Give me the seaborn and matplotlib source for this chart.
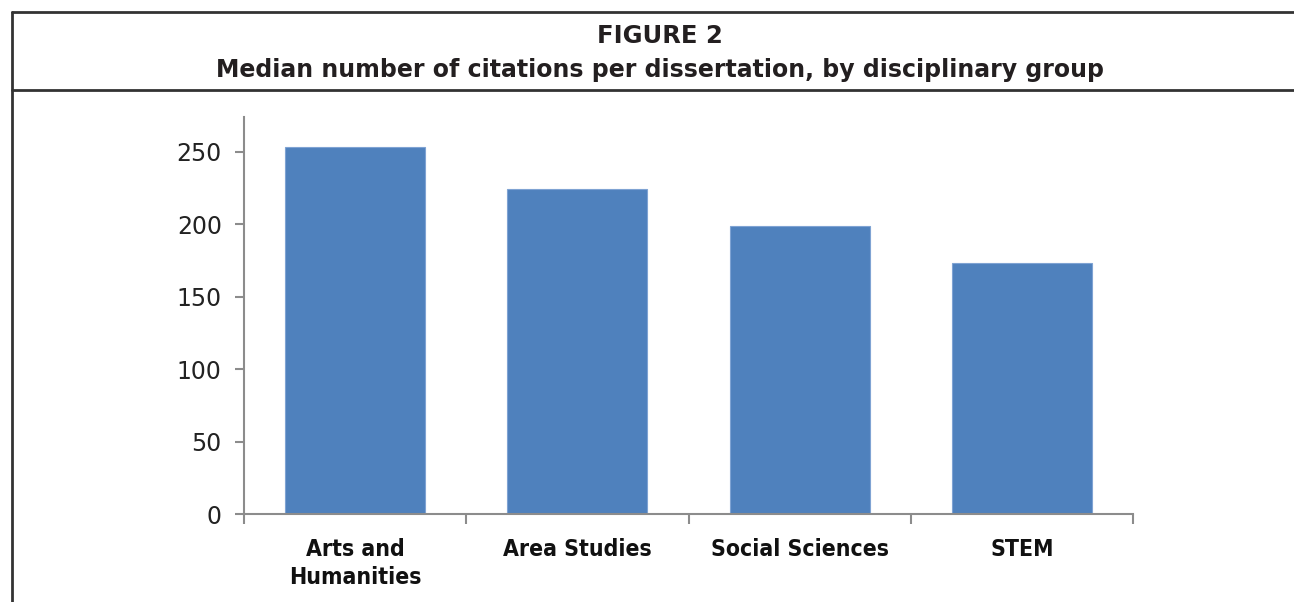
import matplotlib
matplotlib.use("Agg")

import matplotlib.pyplot as plt
import seaborn as sns
import pandas as pd
from matplotlib.lines import Line2D


# values
groups = ["Arts and\nHumanities", "Area Studies", "Social Sciences", "STEM"]
median_citations = [253, 224, 199, 173]
y_ticks = [0, 50, 100, 150, 200, 250]

BAR_COLOR = "#4F81BD"
AXIS_GRAY = "#8C8C8C"
W, H = 1294, 602


def main():

    sns.set_theme(style="white")
    plt.rcParams["font.family"] = ["DejaVu Sans"]

    df = pd.DataFrame({"group": groups, "median": median_citations})

    fig = plt.figure(figsize=(W / 100, H / 100), dpi=100)

    # plot area in pixel terms: x 244..1133, y 117..514
    ax = fig.add_axes([244 / W, 1 - 514 / H, 889 / W, 397 / H])

    sns.barplot(
        data=df,
        x="group",
        y="median",
        order=groups,
        color=BAR_COLOR,
        saturation=1,
        width=0.63,
        edgecolor="#7FA3D3",
        linewidth=0.8,
        ax=ax
    )

    ax.set_xlim(-0.5, len(groups) - 0.5)
    ax.set_ylim(0, 274)
    ax.set_yticks(y_ticks)
    ax.set_xlabel("")
    ax.set_ylabel("")

    for side in ["top", "right"]:
        ax.spines[side].set_visible(False)
    for side in ["left", "bottom"]:
        ax.spines[side].set_color(AXIS_GRAY)
        ax.spines[side].set_linewidth(1.5)

    # category boundary tick marks like Excel
    ax.set_xticks([i - 0.5 for i in range(len(groups) + 1)], minor=True)
    ax.tick_params(axis="x", which="minor", length=7, width=1.5,
                   color=AXIS_GRAY, direction="out", bottom=True)
    ax.tick_params(axis="x", which="major", length=0, pad=17)
    ax.tick_params(axis="y", length=6.5, width=1.5, color=AXIS_GRAY,
                   direction="out", left=True, pad=9.5)

    for lab in ax.get_yticklabels():
        lab.set_fontsize(17)
        lab.set_color("#222222")
    for lab in ax.get_xticklabels():
        lab.set_family("DejaVu Sans")
        lab.set_stretch("condensed")
        lab.set_fontweight("bold")
        lab.set_fontsize(16.5)
        lab.set_color("#111111")
        lab.set_linespacing(1.3)

    # header box and frame lines
    line_kw = dict(color="#333333", linewidth=2, transform=fig.transFigure)
    fig.add_artist(Line2D([12 / W, 1], [1 - 12 / H, 1 - 12 / H], **line_kw))
    fig.add_artist(Line2D([12 / W, 1], [1 - 90 / H, 1 - 90 / H], **line_kw))
    fig.add_artist(Line2D([12 / W, 12 / W], [0, 1 - 12 / H], **line_kw))

    fig.text(660 / W, 1 - 36 / H, "FIGURE 2", ha="center", va="center",
             fontsize=17.5, fontweight="bold", color="#231F20")
    fig.text(660 / W, 1 - 70 / H,
             "Median number of citations per dissertation, by disciplinary group",
             ha="center", va="center", fontsize=17, fontweight="bold",
             color="#231F20")

    fig.savefig("out.png", dpi=100, facecolor="white")
    plt.close(fig)


if __name__ == "__main__":
    main()
